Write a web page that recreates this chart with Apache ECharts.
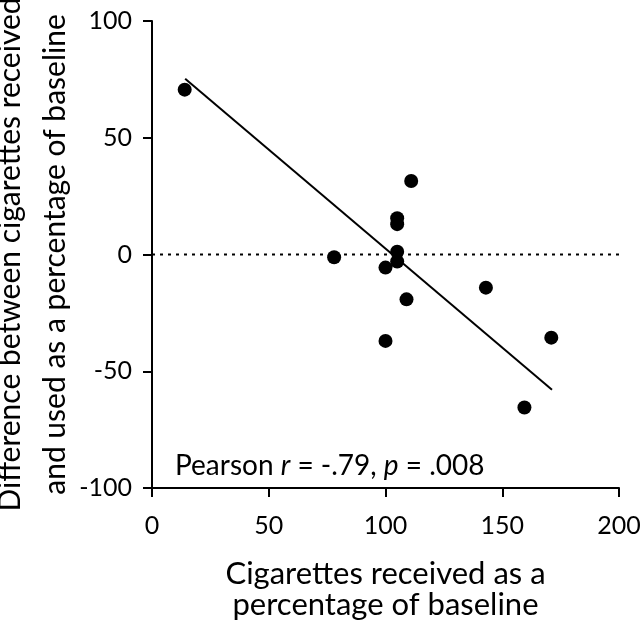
<!DOCTYPE html>
<html><head><meta charset="utf-8">
<script src="https://cdn.jsdelivr.net/npm/echarts@6/dist/echarts.min.js"></script>
<style>html,body{margin:0;padding:0;background:#fff}#c{width:640px;height:622px}</style>
</head><body><div id="c"></div>
<script>
var xVals = [14, 78, 100, 100, 105, 105, 105, 105, 109, 111, 143, 159.5, 171];
var yVals = [70.6, -1.2, -5.6, -37, 15.5, 13, 1.2, -3, -19.2, 31.5, -14.2, -65.5, -35.6];
var fitX = [14.2, 171.3];
var fitY = [75.3, -57.9];
var zeroX = [0, 200];
var zeroY = [0, 0];
var xTicks = [0, 50, 100, 150, 200];
var yTicks = [-100, -50, 0, 50, 100];

var font = 'Lato';
var chart = echarts.init(document.getElementById('c'), null, {renderer: 'canvas'});
chart.setOption({
  animation: false,
  backgroundColor: '#fff',
  grid: {left: 152, right: 21, top: 21, bottom: 134, containLabel: false, outerBoundsMode: 'none'},
  xAxis: {
    type: 'value', min: xTicks[0], max: xTicks[xTicks.length-1], interval: 50,
    name: 'Cigarettes received as a\npercentage of baseline',
    nameLocation: 'middle', nameGap: 70, nameMoveOverlap: false,
    nameTextStyle: {fontFamily: font, fontSize: 31, color: '#000', lineHeight: 31},
    axisLine: {onZero: false, lineStyle: {color: '#000', width: 2}},
    axisTick: {show: true, length: 9, lineStyle: {color: '#000', width: 2}},
    axisLabel: {fontFamily: font, fontSize: 25, color: '#000', margin: 25},
    splitLine: {show: false}
  },
  yAxis: {
    type: 'value', min: yTicks[0], max: yTicks[yTicks.length-1], interval: 50,
    name: 'Difference between cigarettes received\nand used as a percentage of baseline',
    nameLocation: 'middle', nameGap: 74, nameRotate: 90, nameMoveOverlap: false,
    nameTextStyle: {fontFamily: font, fontSize: 30, color: '#000', lineHeight: 45},
    axisLine: {onZero: false, lineStyle: {color: '#000', width: 2}},
    axisTick: {show: true, length: 9, lineStyle: {color: '#000', width: 2}},
    axisLabel: {fontFamily: font, fontSize: 25, color: '#000', margin: 20},
    splitLine: {show: false}
  },
  series: [
    {
      type: 'line', data: zeroX.map(function(x,i){return [x, zeroY[i]];}),
      symbol: 'none', lineStyle: {color: '#000', width: 2, type: [3, 5]}, z: 1
    },
    {
      type: 'line', data: fitX.map(function(x,i){return [x, fitY[i]];}),
      symbol: 'none', lineStyle: {color: '#000', width: 2}, z: 2
    },
    {
      type: 'scatter', data: xVals.map(function(x,i){return [x, yVals[i]];}),
      symbol: 'circle', symbolSize: 14, itemStyle: {color: '#000', opacity: 1}, z: 3
    }
  ],
  graphic: [{
    type: 'text', left: 175, top: 452,
    style: {
      text: '{n|Pearson }{i|r}{n| = -.79, }{i|p}{n| = .008}',
      rich: {
        n: {fontFamily: font, fontSize: 28, fill: '#000'},
        i: {fontFamily: font, fontSize: 28, fontStyle: 'italic', fill: '#000'}
      }
    }
  }]
});
</script></body></html>
